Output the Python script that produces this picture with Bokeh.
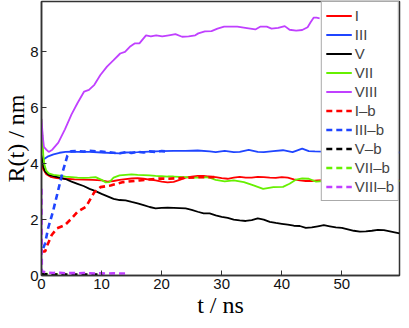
from bokeh.plotting import figure
from bokeh.models import FixedTicker, Range1d, Legend, LegendItem
from bokeh.embed import file_html
from bokeh.resources import INLINE

# ---- data ----
t_I = [0, 0.3, 0.8, 1.5, 2.5, 4, 5.5, 7, 8.5, 10, 11, 12, 13, 14, 15, 16, 17, 18, 19, 20,
       21, 22, 23, 24, 25, 26, 27, 28, 29, 30, 31, 32, 33, 34, 35, 36, 37, 38, 39, 40,
       41, 42, 43, 44, 45, 46, 48, 50, 52, 54, 56, 58, 59.6]
r_I = [3.95, 3.8, 3.62, 3.53, 3.48, 3.46, 3.44, 3.43, 3.42, 3.40, 3.36, 3.38, 3.42, 3.45, 3.47, 3.48, 3.46, 3.43, 3.40, 3.36,
       3.33, 3.35, 3.42, 3.50, 3.54, 3.56, 3.56, 3.54, 3.52, 3.48, 3.46, 3.50, 3.53, 3.50, 3.50, 3.53, 3.52, 3.50, 3.49, 3.52,
       3.50, 3.44, 3.40, 3.38, 3.38, 3.40, 3.42, 3.40, 3.42, 3.40, 3.38, 3.40, 3.40]

t_III = [0, 1, 2, 3, 4, 5, 6, 8, 10, 12, 13, 14, 16, 18, 20, 22, 24, 26, 28, 29, 30.5, 32, 33,
         34.5, 36, 37, 38.6, 40.2, 41.8, 43.4, 44.5, 45.5, 47, 50, 53, 56, 59.6]
r_III = [4.10, 4.25, 4.33, 4.39, 4.42, 4.43, 4.42, 4.42, 4.40, 4.38, 4.37, 4.40, 4.41, 4.43, 4.45, 4.46, 4.46, 4.47, 4.44, 4.41, 4.46, 4.41, 4.42,
         4.49, 4.42, 4.41, 4.45, 4.48, 4.41, 4.54, 4.45, 4.44, 4.43, 4.42, 4.44, 4.41, 4.40]

t_V = [0, 0.3, 0.6, 1.2, 2, 3, 4, 5, 6, 7, 8, 9, 10, 11, 12, 13, 14, 15, 16, 17, 18, 19, 20,
       21, 22, 23, 24, 25, 26, 27, 28, 29, 30, 31, 32, 33, 34, 35, 36, 37, 38, 39, 40, 41, 42,
       43, 44, 45, 46, 47, 48, 49, 50, 51, 52, 53, 54, 55, 56, 57, 58, 59.6]
r_V = [4.30, 3.90, 3.72, 3.60, 3.55, 3.50, 3.45, 3.36, 3.28, 3.20, 3.10, 3.02, 2.92, 2.83, 2.74, 2.70, 2.69, 2.63, 2.58, 2.52, 2.45, 2.40, 2.42,
       2.43, 2.42, 2.41, 2.40, 2.35, 2.28, 2.22, 2.22, 2.15, 2.10, 2.06, 2.00, 1.97, 1.95, 1.98, 2.04, 2.00, 1.92, 1.88, 1.85, 1.82, 1.78,
       1.77, 1.70, 1.72, 1.76, 1.80, 1.76, 1.72, 1.70, 1.65, 1.60, 1.57, 1.58, 1.60, 1.63, 1.62, 1.58, 1.51]

t_VII = [0, 0.15, 0.3, 0.5, 0.8, 1.2, 2, 3, 4, 5, 6, 7, 8, 9, 10, 10.7, 11.3, 12, 13, 14, 15, 16, 17,
         18, 19, 20, 21, 22, 23, 24, 25, 26, 27, 28, 29, 30.5, 32, 33.7, 35.3, 36.9, 38.6, 40.2,
         41.3, 42.4, 43.4, 44.5, 45.7, 47, 50, 53, 56, 59.6]
r_VII = [5.60, 5.00, 4.30, 3.95, 3.75, 3.65, 3.60, 3.57, 3.54, 3.52, 3.50, 3.49, 3.50, 3.52, 3.42, 3.33, 3.34, 3.50, 3.58, 3.60, 3.62, 3.60, 3.59,
         3.58, 3.56, 3.55, 3.54, 3.54, 3.53, 3.52, 3.50, 3.50, 3.52, 3.50, 3.42, 3.37, 3.40, 3.34, 3.22, 3.10, 3.16, 3.17,
         3.28, 3.43, 3.47, 3.46, 3.36, 3.38, 3.40, 3.38, 3.36, 3.38]

t_VIII = [0, 0.2, 0.4, 0.8, 1.2, 1.8, 2.8, 3.9, 5.0, 6.0, 7.1, 7.9, 8.8, 9.8, 10.9, 12, 13.1, 13.9, 14.7,
          15.5, 16.3, 17.4, 18.2, 19.1, 20.1, 21.2, 22.3, 23.4, 24.5, 25.6, 26.1, 27.2, 28.3, 29.3, 30.4,
          31.5, 32.6, 34.2, 35.6, 36.4, 37.5, 38.3, 39.4, 40.5, 41.3, 42.4, 43.4, 44.3, 44.8, 45.3, 45.8, 46.3]
r_VIII = [5.60, 5.00, 4.60, 4.50, 4.42, 4.50, 4.75, 5.23, 5.76, 6.17, 6.58, 6.64, 6.82, 7.17, 7.47, 7.70, 7.94, 8.00, 8.18,
          8.30, 8.30, 8.59, 8.55, 8.59, 8.55, 8.59, 8.63, 8.54, 8.55, 8.59, 8.66, 8.73, 8.74, 8.83, 8.90,
          8.90, 8.90, 8.85, 8.80, 8.90, 8.90, 8.83, 8.86, 8.92, 8.79, 8.76, 8.78, 8.88, 9.06, 9.22, 9.22, 9.20]

t_Ib = [0, 0.6, 1.0, 1.7, 2.6, 3.9, 5.0, 6.0, 7.4, 8.8, 9.8, 11.5, 13.6, 16.3, 19.1, 20, 21, 22.8, 24.5, 26.6, 28.8]
r_Ib = [0.86, 0.86, 1.10, 1.45, 1.69, 1.80, 2.04, 2.28, 2.46, 2.98, 3.16, 3.22, 3.34, 3.40, 3.46, 3.47, 3.46, 3.48, 3.50, 3.52, 3.52]

t_IIIb = [0.3, 0.6, 1.1, 1.9, 2.7, 3.5, 4.3, 4.9, 6, 7, 8, 9, 10, 11, 12, 13, 14, 15, 16, 17, 18, 19, 20, 21]
r_IIIb = [0.98, 1.15, 1.69, 2.28, 2.98, 3.69, 4.28, 4.44, 4.45, 4.43, 4.46, 4.44, 4.43, 4.41, 4.39, 4.37, 4.41, 4.38, 4.42, 4.40, 4.44, 4.42, 4.45, 4.43]

t_Vb = [0, 10.3]
r_Vb = [0.04, 0.03]

t_VIIb = [0, 4]
r_VIIb = [0.05, 0.04]

t_VIIIb = [0, 0.05, 1, 2, 3, 4, 5, 6, 7, 8, 9, 10, 11, 12, 13, 14.2]
r_VIIIb = [3.10, 0.15, 0.10, 0.09, 0.10, 0.08, 0.09, 0.08, 0.09, 0.08, 0.07, 0.08, 0.07, 0.08, 0.07, 0.07]

x_ticks = [0, 10, 20, 30, 40, 50]
y_ticks = [0, 2, 4, 6, 8]

RED = "#ff0000"
BLUE = "#1f45ff"
BLACK = "#000000"
GREEN = "#66f000"
PURPLE = "#c040ff"

p = figure(width=401, height=320, output_backend="svg", toolbar_location=None,
           x_range=Range1d(0, 59.6), y_range=Range1d(0, 9.8),
           min_border_left=0, min_border_right=2, min_border_top=1, min_border_bottom=0)

sw = 1.8
dw = 2.6
dash = "6 4"
rI = p.line(t_I, r_I, color=RED, line_width=sw)
rIII = p.line(t_III, r_III, color=BLUE, line_width=sw)
rV = p.line(t_V, r_V, color=BLACK, line_width=sw)
rVII = p.line(t_VII, r_VII, color=GREEN, line_width=sw)
rVIII = p.line(t_VIII, r_VIII, color=PURPLE, line_width=sw)
rIb = p.line(t_Ib, r_Ib, color=RED, line_width=dw, line_dash=dash)
rIIIb = p.line(t_IIIb, r_IIIb, color=BLUE, line_width=dw, line_dash=dash)
rVIIb = p.line(t_VIIb, r_VIIb, color=GREEN, line_width=dw, line_dash=dash)
rVb = p.line(t_Vb, r_Vb, color=BLACK, line_width=dw, line_dash=dash)
rVIIIb = p.line(t_VIIIb, r_VIIIb, color=PURPLE, line_width=dw, line_dash=dash)

items = [LegendItem(label="I", renderers=[rI]),
         LegendItem(label="III", renderers=[rIII]),
         LegendItem(label="V", renderers=[rV]),
         LegendItem(label="VII", renderers=[rVII]),
         LegendItem(label="VIII", renderers=[rVIII]),
         LegendItem(label="I–b", renderers=[rIb]),
         LegendItem(label="III–b", renderers=[rIIIb]),
         LegendItem(label="V–b", renderers=[rVb]),
         LegendItem(label="VII–b", renderers=[rVIIb]),
         LegendItem(label="VIII–b", renderers=[rVIIIb])]
lg = Legend(items=items, location="top_right", margin=0, padding=4, spacing=0,
            glyph_width=26, glyph_height=19, label_height=19, label_standoff=3,
            label_text_font="Liberation Sans", label_text_font_size="15px",
            border_line_color="#555555", border_line_width=1,
            background_fill_alpha=1.0)
p.add_layout(lg, "center")

frame_col = "#333333"
p.xgrid.visible = False
p.ygrid.visible = False
p.outline_line_color = frame_col
p.outline_line_width = 1.5
p.background_fill_color = "white"
p.border_fill_color = "white"

p.xaxis.ticker = FixedTicker(ticks=x_ticks)
p.yaxis.ticker = FixedTicker(ticks=y_ticks)
for ax in (p.xaxis, p.yaxis):
    ax.axis_line_color = frame_col
    ax.axis_line_width = 1.5
    ax.major_tick_in = 5
    ax.major_tick_out = 0
    ax.major_tick_line_color = frame_col
    ax.minor_tick_line_color = None
    ax.major_label_text_font = "Liberation Sans"
    ax.major_label_text_font_size = "15px"
    ax.major_label_text_color = "#111111"
    ax.axis_label_text_font = "Liberation Serif"
    ax.axis_label_text_font_style = "normal"
    ax.axis_label_text_font_size = "24px"
    ax.axis_label_text_color = "#000000"

p.xaxis.axis_label = "t / ns"
p.yaxis.axis_label = "R(t) / nm"
p.xaxis.major_label_standoff = 3
p.yaxis.major_label_standoff = 3
p.xaxis.axis_label_standoff = 0
p.yaxis.axis_label_standoff = -2

open("out.html", "w").write(file_html(p, INLINE))
